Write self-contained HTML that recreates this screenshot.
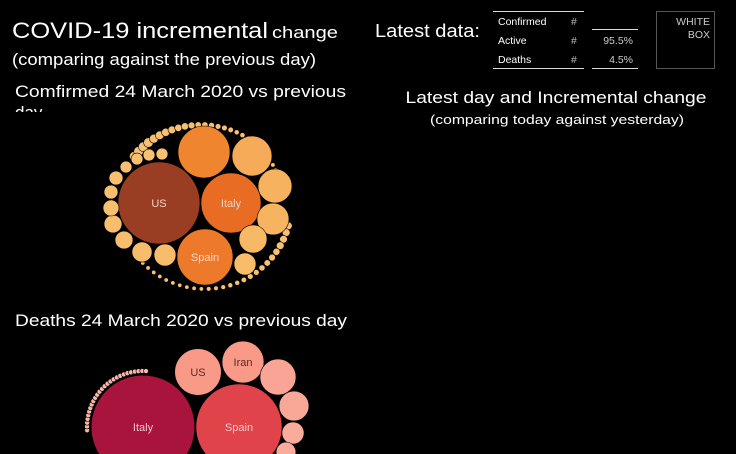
<!DOCTYPE html>
<html><head><meta charset="utf-8"><style>
html,body{margin:0;padding:0;background:#000;width:736px;height:454px;overflow:hidden}
svg{display:block;overflow:hidden;font-family:"Liberation Sans",sans-serif}
</style></head><body>
<svg id="c" width="736" height="454" viewBox="0 0 736 454">
<defs><clipPath id="subclip"><rect x="0" y="75" width="370" height="37"/></clipPath>
<clipPath id="frame"><rect x="0" y="0" width="736" height="454"/></clipPath></defs>
<g>
<text x="12" y="38" fill="#fff" font-size="22" textLength="256" lengthAdjust="spacingAndGlyphs">COVID-19 incremental</text>
<text x="272" y="38" fill="#fff" font-size="17" textLength="66" lengthAdjust="spacingAndGlyphs">change</text>
</g>
<text x="12" y="65" fill="#fff" font-size="17" textLength="304" lengthAdjust="spacingAndGlyphs">(comparing against the previous day)</text>
<g clip-path="url(#subclip)">
<text x="15" y="97" fill="#fff" font-size="17" textLength="331" lengthAdjust="spacingAndGlyphs">Comfirmed 24 March 2020 vs previous</text>
<text x="15" y="118" fill="#fff" font-size="17">day</text>
</g>
<text x="15" y="326" fill="#fff" font-size="17" textLength="332" lengthAdjust="spacingAndGlyphs">Deaths 24 March 2020 vs previous day</text>
<text x="375" y="37" fill="#fff" font-size="18" textLength="105" lengthAdjust="spacingAndGlyphs">Latest data:</text>
<g font-size="10.5" fill="#fff">
<line x1="493" y1="11.5" x2="584" y2="11.5" stroke="#ddd"/>
<line x1="493" y1="68.5" x2="584" y2="68.5" stroke="#ddd"/>
<line x1="592" y1="29.5" x2="638" y2="29.5" stroke="#ddd"/>
<line x1="592" y1="68.5" x2="638" y2="68.5" stroke="#ddd"/>
<text x="498" y="25">Confirmed</text><text x="571" y="25" fill="#bbb">#</text>
<text x="498" y="44">Active</text><text x="571" y="44" fill="#bbb">#</text><text x="633" y="44" text-anchor="end" fill="#ccc">95.5%</text>
<text x="498" y="63">Deaths</text><text x="571" y="63" fill="#bbb">#</text><text x="633" y="63" text-anchor="end" fill="#ccc">4.5%</text>
</g>
<g>
<rect x="656.5" y="11.5" width="58" height="57" fill="none" stroke="#555"/>
<text x="710" y="25" text-anchor="end" fill="#ccc" font-size="10.5">WHITE</text>
<text x="710" y="38" text-anchor="end" fill="#ccc" font-size="10.5">BOX</text>
</g>
<text x="556" y="103" text-anchor="middle" fill="#fff" font-size="17" textLength="301" lengthAdjust="spacingAndGlyphs">Latest day and Incremental change</text>
<text x="557" y="124" text-anchor="middle" fill="#fff" font-size="13" textLength="254" lengthAdjust="spacingAndGlyphs">(comparing today against yesterday)</text>
<g id="conf"></g>
<g id="death" clip-path="url(#frame)"></g>
</svg>
<script>
// Confirmed new cases (24 Mar 2020) - major countries
const confCountries = ["US","Italy","Spain","Germany","France","Iran","Switzerland","UK","Netherlands","Belgium","Austria","Portugal","Brazil","Turkey","Norway","Korea","Israel","Canada","Australia","Sweden"];
const confValues = [10000,5350,4660,4020,2380,1720,1520,1170,720,720,600,480,480,380,290,290,210,210,210,210];
const confLabeled = ["US","Italy","Spain"];
const confColors = ["#993e22","#e86c24","#ed7a2b","#f0852f","#f5ab58","#f6b25f","#f6b360","#f7b965","#f8bc6a","#f8bc6a","#f8bd6c","#f8be6e","#f8be6e","#f8bf70","#f8bf70","#f8bf70","#f8c072","#f8c072","#f8c072","#f8c072"];
// layout (packing) centres
const confLayout = [[159,203],[231,203],[205,257],[204,152],[252,156],[275,186],[273,219],[253,239],[245,264],[165,255],[142,252],[124,240],[113,224],[111,208],[111,192],[116,178],[126,167],[137,159],[149,155],[162,154]];
const confSmallValues = [140,140,140,140,120,110,100,90,80,80,70,60,60,55,50,50,45,40,40,40,35,35,30,30,30,30,30];
// Deaths
const deathCountries = ["Italy","Spain","US","Iran","France","UK","Netherlands","Germany"];
const deathValues = [743,514,150,122,90,62,34,27];
const deathColors = ["#a8143c","#e0434a","#f99a88","#f99a88","#f9a494","#f9a898","#f9ab9c","#f9ab9c"];
const deathLayout = [[143,427],[239,427],[198,372],[243,362],[278,377],[294,406],[293,433],[286,452]];
const deathSmallValues = Array.from({length:26},()=>1);

const NS="http://www.w3.org/2000/svg";
const rConf = v => Math.sqrt(v)*0.41;
const rDeath = v => Math.sqrt(v)*1.9;
function circle(g,cx,cy,r,fill){
  const c=document.createElementNS(NS,"circle");
  c.setAttribute("cx",cx);c.setAttribute("cy",cy);c.setAttribute("r",r);
  c.setAttribute("fill",fill);c.setAttribute("stroke","#000");c.setAttribute("stroke-width","0.6");
  
  
  g.appendChild(c);return c;
}
function label(g,x,y,t,col){
  const e=document.createElementNS(NS,"text");
  e.setAttribute("x",x);e.setAttribute("y",y+4);e.setAttribute("text-anchor","middle");
  e.setAttribute("font-size","11");e.setAttribute("fill",col);e.textContent=t;
  
  
  g.appendChild(e);
}
const gc=document.getElementById("conf");
// small bubbles along outer arc (top-left to right)
confSmallValues.forEach((v,i)=>{
  const a = -2.55 + i*(2.2/confSmallValues.length);
  const R = 87 - i*0.3;
  circle(gc,205+Math.cos(a)*R*0.98,200+Math.sin(a)*R*0.9,rConf(v),"#f8c072");
});
confSmallValues.forEach((v,i)=>{
  const a = 0.25 + i*(2.3/confSmallValues.length);
  circle(gc,205+Math.cos(a)*86,205+Math.sin(a)*84,Math.max(2.2,rConf(v)*0.8),"#f8c072");
});
confValues.forEach((v,i)=>{
  const [x,y]=confLayout[i];
  circle(gc,x,y,rConf(v),confColors[i]);
  if(confLabeled.includes(confCountries[i])) label(gc,x,y,confCountries[i],"#f3d6c8");
});
const gd=document.getElementById("death");
deathSmallValues.forEach((v,i)=>{
  const a = -3.2 + i*(1.75/deathSmallValues.length);
  circle(gd,143+Math.cos(a)*56,427+Math.sin(a)*56,rDeath(v)*1.3,"#f9b8a8");
});
deathValues.forEach((v,i)=>{
  const [x,y]=deathLayout[i];
  circle(gd,x,y,rDeath(v),deathColors[i]);
  if(i<4) label(gd,x,y,deathCountries[i],i<2?"#f5c8cc":"#5a2a24");
});
</script>
</body></html>
